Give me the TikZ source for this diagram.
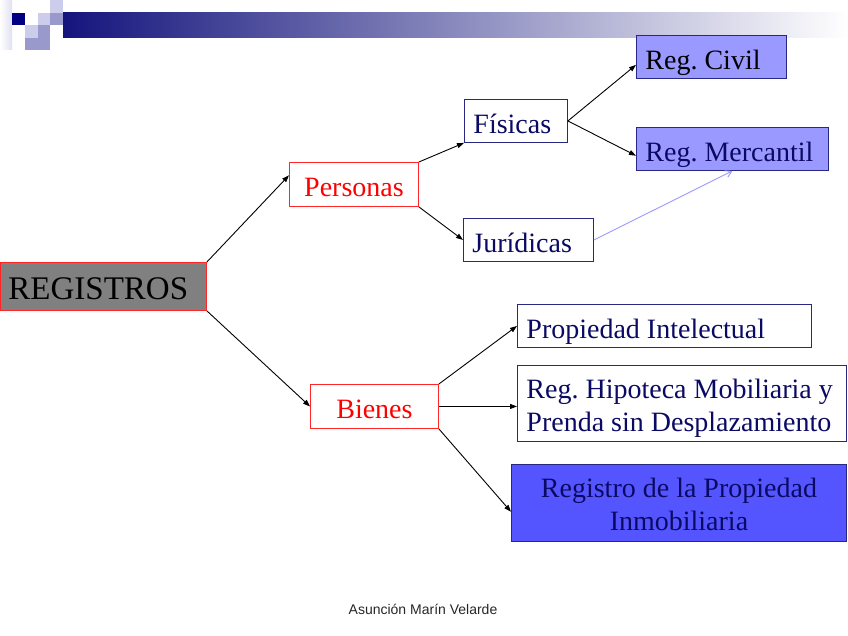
\documentclass[tikz,border=0pt]{standalone}
\usepackage{fontspec}
\setmainfont{Liberation Serif}
\newfontfamily\footfont{Liberation Sans}
\usepackage{xcolor}
\usepackage{tikz}
\usetikzlibrary{arrows.meta, calc}
\frenchspacing

\definecolor{hdrnavy}{RGB}{20,20,125}
\definecolor{sqnavy}{RGB}{0,0,128}
\definecolor{sqlight}{RGB}{204,204,236}
\definecolor{sqmid}{RGB}{153,153,204}
\definecolor{txtnavy}{RGB}{10,10,100}
\definecolor{boxnavy}{RGB}{40,40,130}
\definecolor{regblue}{RGB}{153,153,255}
\definecolor{inmblue}{RGB}{85,85,255}
\definecolor{rootgray}{RGB}{128,128,128}

\begin{document}
\begin{tikzpicture}[
    x=1pt, y=-1pt,
    box/.style={rectangle, anchor=north west, inner xsep=9pt, inner ysep=0pt, line width=0.9pt,
        text height=25pt, text depth=0pt, font=\fontsize{28}{33}\selectfont},
    root/.style={box, draw=red!85, fill=rootgray, text=black, align=flush left, inner xsep=8pt,
        text height=27pt, font=\fontsize{33}{38}\selectfont},
    cat/.style={box, draw=red!85, fill=white, text=red, align=flush center},
    sub/.style={box, draw=boxnavy, fill=white, text=txtnavy, align=flush left},
    twoline/.style={text height=20pt, text depth=30pt},
    regbox/.style={sub, fill=regblue},
    arrow/.style={-{Triangle[length=7pt, width=5pt]}, line width=0.9pt},
    link/.style={-{Straight Barb[length=6pt, width=7pt]}, line width=0.9pt, draw=regblue},
]
\useasboundingbox (0,0) rectangle (848,636);

% header bar
\shade[left color=hdrnavy, right color=white] (63,13) rectangle (848,38);
\shade[left color=white, right color=sqlight!60] (0,0) rectangle (12,50);
\fill[sqlight] (50,0) rectangle (63,13);
\fill[sqnavy]  (12,13) rectangle (25,25);
\fill[sqlight] (38,13) rectangle (50,25);
\fill[sqmid]   (50,13) rectangle (63,25);
\fill[sqlight] (25,25) rectangle (38,38);
\fill[sqmid]   (38,25) rectangle (50,38);
\fill[sqmid]   (25,38) rectangle (50,50);

% nodes
\node[root, text width=190pt, minimum height=48pt] (reg) at (0,262) {REGISTROS};
\node[cat, text width=111pt, minimum height=44pt] (per) at (289,162) {Personas};
\node[cat, text width=110pt, minimum height=44pt] (bie) at (310,384) {Bienes};
\node[sub, text width=85pt, minimum height=43pt] (fis) at (464,99) {Físicas};
\node[sub, text width=112pt, minimum height=43pt] (jur) at (463,218) {Jurídicas};
\node[regbox, text width=132pt, minimum height=43pt, text=black] (civ) at (636,35) {Reg. Civil};
\node[regbox, text width=174pt, minimum height=43pt] (mer) at (636,127) {Reg. Mercantil};
\node[sub, text width=276pt, minimum height=43pt] (pin) at (517,304) {Propiedad Intelectual};
\node[sub, twoline, text width=311pt, minimum height=76pt] (hip) at (517,365) {Reg. Hipoteca Mobiliaria y\\Prenda sin Desplazamiento};
\node[sub, twoline, fill=inmblue, align=flush center, text width=317pt, minimum height=77pt] (inm) at (511,464) {Registro de la Propiedad\\Inmobiliaria};

\node[font=\footfont\fontsize{14}{16}\selectfont, text=black!85] (aut) at (423,609) {Asunción Marín Velarde};

% connectors
\draw[arrow] (reg.north east) -- (per.172);
\draw[arrow] (reg.south east) -- (bie.west);
\draw[arrow] (per.north east) -- (fis.south west);
\draw[arrow] (per.south east) -- (jur.west);
\draw[arrow] (fis.east) -- (civ.186);
\draw[arrow] (fis.east) -- (mer.184);
\draw[link]  (jur.east) -- (mer.south);
\draw[arrow] (bie.north east) -- (pin.west);
\draw[arrow] (bie.east) -- (bie.east -| hip.west);
\draw[arrow] (bie.south east) -- (inm.183);

\end{tikzpicture}
\end{document}
